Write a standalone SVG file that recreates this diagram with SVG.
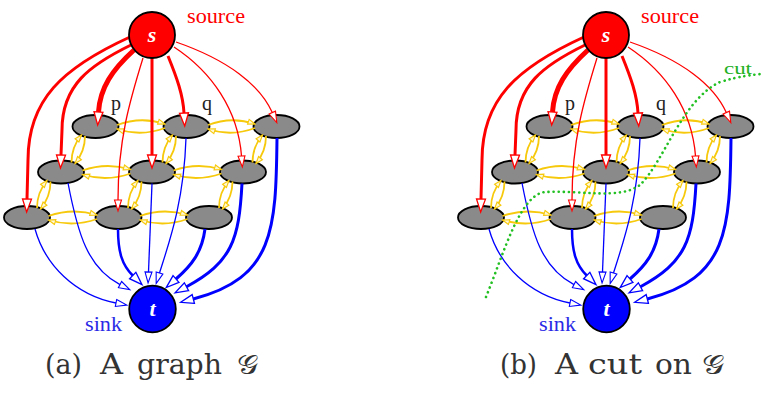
<svg xmlns="http://www.w3.org/2000/svg" width="761" height="400" viewBox="0 0 761 400">
<style>
.cell{fill:#8a8a8a;stroke:#000;stroke-width:1.8}
.red{fill:none;stroke:#ff0000}
.blue{fill:none;stroke:#0000ff}
.yel{fill:none;stroke:#f7c90c;stroke-width:1.8;marker-end:url(#arY)}
.rk{stroke-width:3;marker-end:url(#arR)}
.rx{stroke-width:5;marker-end:url(#arR)}
.rt{stroke-width:1.3;marker-end:url(#arRs)}
.bk{stroke-width:3;marker-end:url(#arB)}
.bt{stroke-width:1.3;marker-end:url(#arBs)}
.lbl{font-family:"Liberation Serif","Times New Roman",serif}
.in{font-family:"Liberation Serif",serif;font-weight:bold;font-style:italic;font-size:22px;fill:#fff;text-anchor:middle}
.cap{font-family:"DejaVu Serif","Liberation Serif",serif;font-size:27px;fill:#333}
</style>
<defs>
<marker id="arR" markerUnits="userSpaceOnUse" markerWidth="16" markerHeight="12" refX="0" refY="5" orient="auto" overflow="visible"><path d="M0,0.5 L13,5 L0,9.5 Z" fill="#fff" stroke="#ff0000" stroke-width="1.3"/></marker>
<marker id="arRs" markerUnits="userSpaceOnUse" markerWidth="14" markerHeight="10" refX="0" refY="4.5" orient="auto" overflow="visible"><path d="M0,1 L11,4.5 L0,8 Z" fill="#fff" stroke="#ff0000" stroke-width="1.1"/></marker>
<marker id="arB" markerUnits="userSpaceOnUse" markerWidth="16" markerHeight="12" refX="0" refY="5" orient="auto" overflow="visible"><path d="M0,0.5 L13,5 L0,9.5 Z" fill="#fff" stroke="#0000ff" stroke-width="1.3"/></marker>
<marker id="arBs" markerUnits="userSpaceOnUse" markerWidth="14" markerHeight="10" refX="0" refY="4.5" orient="auto" overflow="visible"><path d="M0,1 L11,4.5 L0,8 Z" fill="#fff" stroke="#0000ff" stroke-width="1.1"/></marker>
<marker id="arY" markerUnits="userSpaceOnUse" markerWidth="10" markerHeight="8" refX="7" refY="2.5" orient="auto" overflow="visible"><path d="M0,0 L7,2.5 L0,5 Z" fill="#fff8d8" stroke="#f7c90c" stroke-width="1.1"/></marker>
</defs>

<!-- Panel (a) -->
<g id="panelA">
<g id="a-p"><ellipse class="cell" cx="95.5" cy="126.5" rx="23" ry="11.5"/></g>
<g id="a-q"><ellipse class="cell" cx="186.5" cy="126.5" rx="23" ry="11.5"/></g>
<g id="a-n13"><ellipse class="cell" cx="276.5" cy="126.5" rx="23" ry="11.5"/></g>
<g id="a-n21"><ellipse class="cell" cx="61" cy="172" rx="23" ry="11.5"/></g>
<g id="a-n22"><ellipse class="cell" cx="152" cy="172" rx="23" ry="11.5"/></g>
<g id="a-n23"><ellipse class="cell" cx="243" cy="172" rx="23" ry="11.5"/></g>
<g id="a-n31"><ellipse class="cell" cx="27" cy="217.5" rx="23" ry="11.5"/></g>
<g id="a-n32"><ellipse class="cell" cx="118.5" cy="217.5" rx="23" ry="11.5"/></g>
<g id="a-n33"><ellipse class="cell" cx="209" cy="217.5" rx="23" ry="11.5"/></g>

<g id="a-connectors">
<!-- neighbour links -->
<path class="yel" d="M117,125 Q141,116 165,124"/><path class="yel" d="M165,128 Q141,137 117,129"/>
<path class="yel" d="M208,125 Q231.5,116 255,124"/><path class="yel" d="M255,128 Q231.5,137 208,129"/>
<path class="yel" d="M82.5,170.5 Q106.5,162 130.5,169.5"/><path class="yel" d="M130.5,173.5 Q106.5,182 82.5,174.5"/>
<path class="yel" d="M173.5,170.5 Q197.5,162 221.5,169.5"/><path class="yel" d="M221.5,173.5 Q197.5,182 173.5,174.5"/>
<path class="yel" d="M48.5,216 Q72.75,207.5 97,215"/><path class="yel" d="M97,219 Q72.75,227.5 48.5,220"/>
<path class="yel" d="M140,216 Q163.75,207.5 187.5,215"/><path class="yel" d="M187.5,219 Q163.75,227.5 140,220"/>
<path class="yel" d="M85,136 Q85,151.5 75,163.5"/><path class="yel" d="M71.5,162.5 Q71.5,147 81.5,135"/>
<path class="yel" d="M176,136 Q176,151.5 166,163.5"/><path class="yel" d="M162.5,162.5 Q162.5,147 172.5,135"/>
<path class="yel" d="M266,136 Q266,151.5 256,163.5"/><path class="yel" d="M252.5,162.5 Q252.5,147 262.5,135"/>
<path class="yel" d="M50.5,181.5 Q50.5,197 40.5,209"/><path class="yel" d="M37,208 Q37,192.5 47,180.5"/>
<path class="yel" d="M141.5,181.5 Q141.5,197 131.5,209"/><path class="yel" d="M128,208 Q128,192.5 138,180.5"/>
<path class="yel" d="M232.5,181.5 Q232.5,197 222.5,209"/><path class="yel" d="M219,208 Q219,192.5 229,180.5"/>
<!-- source links -->
<path class="red rk" d="M130,37 C62,68 28,100 28,160 L27,199"/>
<path class="red rk" d="M131,45 C90,65 62,85 62,130 L61,155"/>
<path class="red rx" d="M134,50 C112,70 100,88 98.5,112"/>
<path class="red rt" d="M143,58 C130,100 118,140 118,200"/>
<path class="red rk" d="M152,58 L152,155"/>
<path class="red rk" d="M168,56 C177,78 183,95 184,113"/>
<path class="red rt" d="M174,47 C212,72 238,110 241.5,156"/>
<path class="red rt" d="M176,42 C228,60 260,85 272.3,112.6"/>
<!-- sink links -->
<path class="blue bt" d="M35,229 C45,265 75,295 116,303"/>
<path class="blue bt" d="M68,183 C78,235 88,268 120,284.6"/>
<path class="blue" style="stroke-width:2.5;marker-end:url(#arB)" d="M118,229 C118,252 122,265 132.7,275.5"/>
<path class="blue bt" d="M152,183.5 L148.5,272"/>
<path class="blue bt" d="M186,138 C184,200 170,240 159.5,273"/>
<path class="blue bk" d="M205,229 C202,252 192,265 176,279"/>
<path class="blue bk" d="M242,183.5 C239,240 232,262 186.5,286.7"/>
<path class="blue bk" d="M277,138 C276,230 274,278 193.3,299"/>
</g>

<g id="a-s"><circle cx="152" cy="35" r="23" fill="#ff0000" stroke="#000" stroke-width="1.8"/><text class="in" x="152" y="42">s</text></g>
<g id="a-t"><circle cx="152.5" cy="309" r="23.3" fill="#0000ff" stroke="#000" stroke-width="1.8"/><text class="in" x="152.5" y="316">t</text></g>
<text class="lbl" x="187" y="23" font-size="21" fill="#ff0000" textLength="58" lengthAdjust="spacingAndGlyphs">source</text>
<text class="lbl" x="111" y="110" font-size="20" fill="#222">p</text>
<text class="lbl" x="202" y="110" font-size="20" fill="#222">q</text>
<text class="lbl" x="85" y="331" font-size="20" fill="#2a2ae6" textLength="37" lengthAdjust="spacingAndGlyphs">sink</text>
<text class="cap" y="374"><tspan x="45" textLength="37" lengthAdjust="spacingAndGlyphs">(a)</tspan> <tspan x="100" textLength="23" lengthAdjust="spacingAndGlyphs">A</tspan> <tspan x="137" textLength="85" lengthAdjust="spacingAndGlyphs">graph</tspan> <tspan x="237" textLength="21" lengthAdjust="spacingAndGlyphs">𝒢</tspan></text>
</g>

<!-- Panel (b) -->
<g id="panelB" transform="translate(454,0)">
<g id="b-p"><ellipse class="cell" cx="95.5" cy="126.5" rx="23" ry="11.5"/></g>
<g id="b-q"><ellipse class="cell" cx="186.5" cy="126.5" rx="23" ry="11.5"/></g>
<g id="b-n13"><ellipse class="cell" cx="276.5" cy="126.5" rx="23" ry="11.5"/></g>
<g id="b-n21"><ellipse class="cell" cx="61" cy="172" rx="23" ry="11.5"/></g>
<g id="b-n22"><ellipse class="cell" cx="152" cy="172" rx="23" ry="11.5"/></g>
<g id="b-n23"><ellipse class="cell" cx="243" cy="172" rx="23" ry="11.5"/></g>
<g id="b-n31"><ellipse class="cell" cx="27" cy="217.5" rx="23" ry="11.5"/></g>
<g id="b-n32"><ellipse class="cell" cx="118.5" cy="217.5" rx="23" ry="11.5"/></g>
<g id="b-n33"><ellipse class="cell" cx="209" cy="217.5" rx="23" ry="11.5"/></g>

<g id="b-connectors">
<path class="yel" d="M117,125 Q141,116 165,124"/><path class="yel" d="M165,128 Q141,137 117,129"/>
<path class="yel" d="M208,125 Q231.5,116 255,124"/><path class="yel" d="M255,128 Q231.5,137 208,129"/>
<path class="yel" d="M82.5,170.5 Q106.5,162 130.5,169.5"/><path class="yel" d="M130.5,173.5 Q106.5,182 82.5,174.5"/>
<path class="yel" d="M173.5,170.5 Q197.5,162 221.5,169.5"/><path class="yel" d="M221.5,173.5 Q197.5,182 173.5,174.5"/>
<path class="yel" d="M48.5,216 Q72.75,207.5 97,215"/><path class="yel" d="M97,219 Q72.75,227.5 48.5,220"/>
<path class="yel" d="M140,216 Q163.75,207.5 187.5,215"/><path class="yel" d="M187.5,219 Q163.75,227.5 140,220"/>
<path class="yel" d="M85,136 Q85,151.5 75,163.5"/><path class="yel" d="M71.5,162.5 Q71.5,147 81.5,135"/>
<path class="yel" d="M176,136 Q176,151.5 166,163.5"/><path class="yel" d="M162.5,162.5 Q162.5,147 172.5,135"/>
<path class="yel" d="M266,136 Q266,151.5 256,163.5"/><path class="yel" d="M252.5,162.5 Q252.5,147 262.5,135"/>
<path class="yel" d="M50.5,181.5 Q50.5,197 40.5,209"/><path class="yel" d="M37,208 Q37,192.5 47,180.5"/>
<path class="yel" d="M141.5,181.5 Q141.5,197 131.5,209"/><path class="yel" d="M128,208 Q128,192.5 138,180.5"/>
<path class="yel" d="M232.5,181.5 Q232.5,197 222.5,209"/><path class="yel" d="M219,208 Q219,192.5 229,180.5"/>
<path class="red rk" d="M130,37 C62,68 28,100 28,160 L27,199"/>
<path class="red rk" d="M131,45 C90,65 62,85 62,130 L61,155"/>
<path class="red rx" d="M134,50 C112,70 100,88 98.5,112"/>
<path class="red rt" d="M143,58 C130,100 118,140 118,200"/>
<path class="red rk" d="M152,58 L152,155"/>
<path class="red rk" d="M168,56 C177,78 183,95 184,113"/>
<path class="red rt" d="M174,47 C212,72 238,110 241.5,156"/>
<path class="red rt" d="M176,42 C228,60 260,85 272.3,112.6"/>
<path class="blue bt" d="M35,229 C45,265 75,295 116,303"/>
<path class="blue bt" d="M68,183 C78,235 88,268 120,284.6"/>
<path class="blue" style="stroke-width:2.5;marker-end:url(#arB)" d="M118,229 C118,252 122,265 132.7,275.5"/>
<path class="blue bt" d="M152,183.5 L148.5,272"/>
<path class="blue bt" d="M186,138 C184,200 170,240 159.5,273"/>
<path class="blue bk" d="M205,229 C202,252 192,265 176,279"/>
<path class="blue bk" d="M242,183.5 C239,240 232,262 186.5,286.7"/>
<path class="blue bk" d="M277,138 C276,230 274,278 193.3,299"/>
</g>

<g id="b-s"><circle cx="152" cy="35" r="23" fill="#ff0000" stroke="#000" stroke-width="1.8"/><text class="in" x="152" y="42">s</text></g>
<g id="b-t"><circle cx="152.5" cy="309" r="23.3" fill="#0000ff" stroke="#000" stroke-width="1.8"/><text class="in" x="152.5" y="316">t</text></g>
<text class="lbl" x="187" y="23" font-size="21" fill="#ff0000" textLength="58" lengthAdjust="spacingAndGlyphs">source</text>
<text class="lbl" x="111" y="110" font-size="20" fill="#222">p</text>
<text class="lbl" x="202" y="110" font-size="20" fill="#222">q</text>
<text class="lbl" x="85" y="331" font-size="20" fill="#2a2ae6" textLength="37" lengthAdjust="spacingAndGlyphs">sink</text>
<g id="b-cut">
<path d="M32,297 C51,250 66,195 91,192 C126,190 166,200 186,185 C211,160 228,100 266,82 C286,76 298,75 307,74" fill="none" stroke="#22c022" stroke-width="2.6" stroke-linecap="round" stroke-dasharray="0.1 5"/>
<text class="lbl" x="270" y="74" font-size="17" fill="#22b022" textLength="28" lengthAdjust="spacingAndGlyphs">cut</text>
</g>
<text class="cap" y="374"><tspan x="46" textLength="37" lengthAdjust="spacingAndGlyphs">(b)</tspan> <tspan x="101" textLength="23" lengthAdjust="spacingAndGlyphs">A</tspan> <tspan x="134" textLength="54" lengthAdjust="spacingAndGlyphs">cut</tspan> <tspan x="201" textLength="37" lengthAdjust="spacingAndGlyphs">on</tspan> <tspan x="248" textLength="22" lengthAdjust="spacingAndGlyphs">𝒢</tspan></text>
</g>
</svg>
